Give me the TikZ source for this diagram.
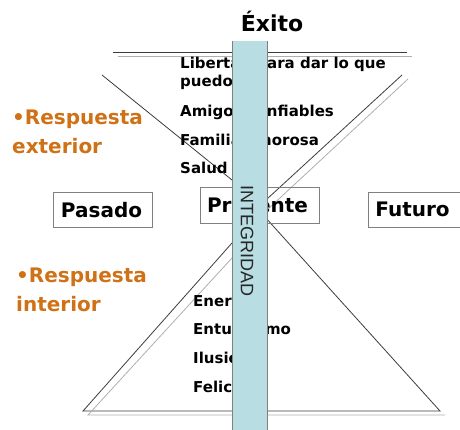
\documentclass[tikz,border=0pt]{standalone}
\usepackage{fontspec}
\setmainfont{DejaVu Sans}
\newfontfamily\pillarfont{Liberation Sans}
\usetikzlibrary{positioning}
\definecolor{pillarblue}{RGB}{184,221,226}
\definecolor{respuesta}{RGB}{207,113,22}
\definecolor{lightline}{RGB}{175,175,175}
\definecolor{darkline}{RGB}{60,60,60}

\begin{document}
\begin{tikzpicture}[x=1pt,y=-1pt,
	dark/.style={draw=darkline,line width=0.8pt},
	light/.style={draw=lightline,line width=0.8pt},
	timebox/.style={draw=gray,line width=0.8pt,inner sep=0pt},
	timetext/.style={anchor=base,inner sep=0pt,font=\fontsize{20}{24}\selectfont\bfseries},
	item/.style={anchor=base west,inner sep=0pt,align=left,font=\fontsize{15}{18}\selectfont\bfseries},
	resp/.style={anchor=base west,inner sep=0pt,align=left,text=respuesta,font=\fontsize{20}{29}\selectfont\bfseries}]
		
		\useasboundingbox (0,0) rectangle (460,430);
		
		%Title
		\node[anchor=base,inner sep=0pt,font=\fontsize{22}{26}\selectfont\bfseries] (exito) at (272,32){Éxito};
		
		%Upper funnel
		\draw[dark] (113,52) coordinate (topl) -- (407,52) coordinate (topr);
		\draw[light] (118,56) -- (412,56);
		\draw[dark] (102,75) -- (232,180);
		\draw[dark] (402,75) -- (267,199);
		\draw[light] (408,79) -- (267,210);
		
		%Lower triangle
		\draw[dark] (232,243) -- (83,411) coordinate (basel) -- (440,411) coordinate (baser) -- (265,217);
		\draw[light] (232,258) -- (88,415) -- (445,415);
		
		%Respuestas (base = last line)
		\node[resp] (exterior) at (12,154){•Respuesta\\exterior};
		\node[resp] (interior) at (16,311){•Respuesta\\interior};
		
		%Upper list
		\node[item] (libertad) at (180,87){Libertad para dar lo que\\puedo};
		\node[item] (amigos) at (180,117){Amigos confiables};
		\node[item] (familia) at (180,146){Familia amorosa};
		\node[item] (salud) at (180,174){Salud};
		
		%Lower list
		\node[item] (energia) at (193,306){Energía};
		\node[item] (entusiasmo) at (193,334){Entusiasmo};
		\node[item] (ilusiones) at (193,363){Ilusiones};
		\node[item] (felicidad) at (193,392){Felicidad};
		
		%Time boxes
		\node[timebox,minimum width=99pt,minimum height=35pt] (pasado) at (102.5,209.5){};
		\node[timetext] (pasadotxt) at (101.5,218){Pasado};
		\node[timebox,minimum width=119pt,minimum height=36pt] (presente) at (259.5,205){};
		\node[timetext] (presentetxt) at (257.5,213){Presente};
		\node[timebox,minimum width=93pt,minimum height=35pt] (futuro) at (414.5,209.5){};
		\node[timetext] (futurotxt) at (412.5,217){Futuro};
		
		%Pillar
		\node[fill=pillarblue,inner sep=0pt,minimum width=35pt,minimum height=390pt] (pilar) at (249.5,236){};
		\draw[draw=gray,line width=0.6pt] (pilar.north west) -- (pilar.south west);
		\draw[draw=gray,line width=0.6pt] (pilar.north east) -- (pilar.south east);
		\node[rotate=-90,inner sep=0pt,text=black!85,font=\pillarfont\fontsize{18}{20}\selectfont] (integridad) at (247,241){INTEGRIDAD};
		
\end{tikzpicture}
\end{document}
